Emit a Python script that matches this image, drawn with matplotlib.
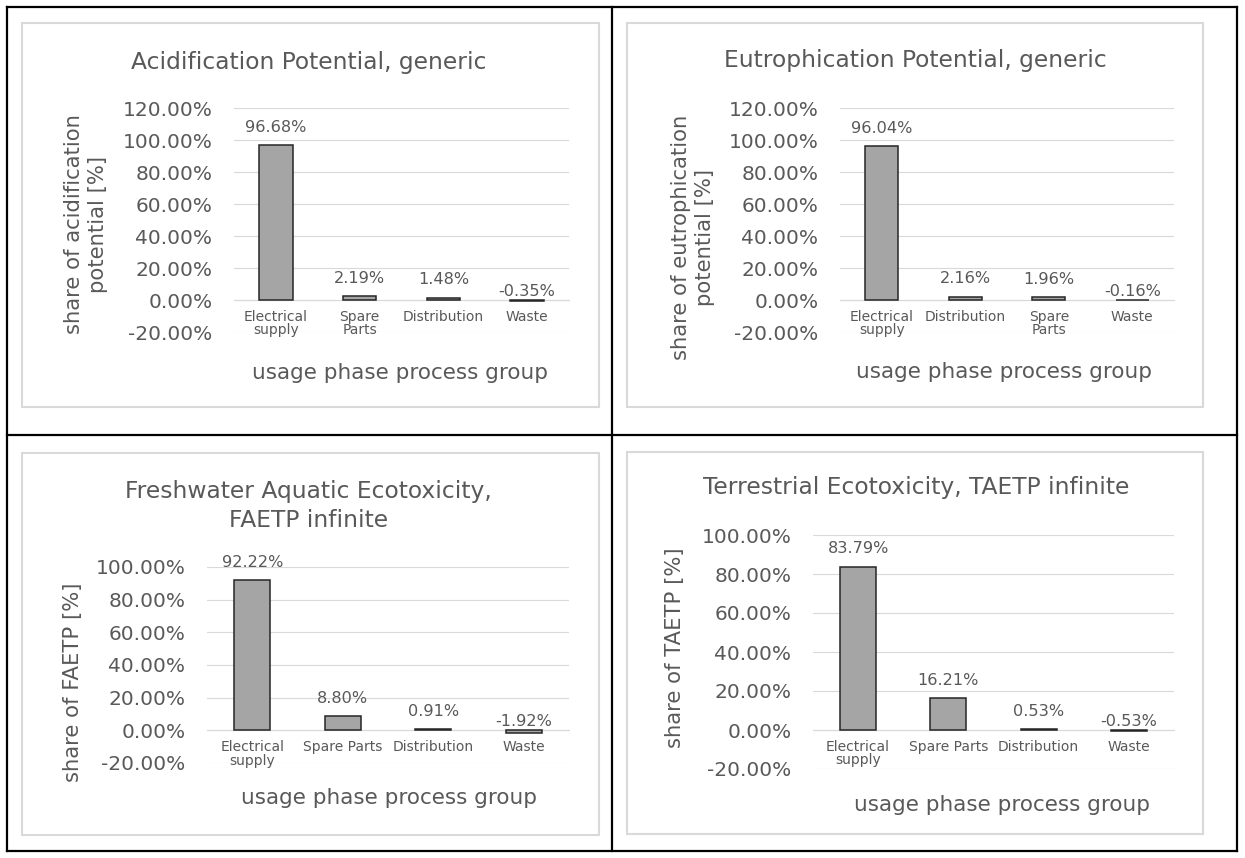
import matplotlib
matplotlib.use("Agg")
import matplotlib.pyplot as plt
from matplotlib.patches import Rectangle
from matplotlib.lines import Line2D
from matplotlib.ticker import FuncFormatter, MultipleLocator

# ---- data -------------------------------------------------------------
acid_categories = ["Electrical\nsupply", "Spare\nParts", "Distribution", "Waste"]
acid_values = [96.68, 2.19, 1.48, -0.35]

eutro_categories = ["Electrical\nsupply", "Distribution", "Spare\nParts", "Waste"]
eutro_values = [96.04, 2.16, 1.96, -0.16]

faetp_categories = ["Electrical\nsupply", "Spare Parts", "Distribution", "Waste"]
faetp_values = [92.22, 8.80, 0.91, -1.92]

taetp_categories = ["Electrical\nsupply", "Spare Parts", "Distribution", "Waste"]
taetp_values = [83.79, 16.21, 0.53, -0.53]

titles = [
    "Acidification Potential, generic",
    "Eutrophication Potential, generic",
    "Freshwater Aquatic Ecotoxicity,\nFAETP infinite",
    "Terrestrial Ecotoxicity, TAETP infinite",
]
ylabels = [
    "share of acidification\npotential [%]",
    "share of eutrophication\npotential [%]",
    "share of FAETP [%]",
    "share of TAETP [%]",
]
xlabel = "usage phase process group"
y_limits = [(-20, 120), (-20, 120), (-20, 100), (-20, 100)]

# ---- style ------------------------------------------------------------
TEXT = "#595959"
GRID = "#d9d9d9"
BAR = "#a5a5a5"
EDGE = "#262626"
plt.rcParams["font.family"] = ["DejaVu Sans"]

W, H = 1245, 858
fig = plt.figure(figsize=(W / 100, H / 100), dpi=100)
fig.patch.set_facecolor("white")


def fx(x):
    return x / W


def fy(y):
    return 1 - y / H


def add_axes_px(x0, y0, x1, y1):
    return fig.add_axes([fx(x0), fy(y1), (x1 - x0) / W, (y1 - y0) / H])


def fig_text(x, y, s, **kw):
    fig.text(fx(x), fy(y), s, color=TEXT, ha="center", va="center", **kw)


# table frame around the four panels
frame_kw = dict(color="black", linewidth=1.6, transform=fig.transFigure)
for (x0, y0, x1, y1) in [(7, 7, 1237, 7), (7, 851, 1237, 851), (7, 7, 7, 851),
                         (1237, 7, 1237, 851), (612, 7, 612, 851), (7, 435, 1237, 435)]:
    fig.add_artist(Line2D([fx(x0), fx(x1)], [fy(y0), fy(y1)], **frame_kw))

# chart-area borders
boxes = [(22, 23, 599, 407), (627, 23, 1203, 407), (22, 453, 599, 835), (627, 452, 1203, 834)]
for (x0, y0, x1, y1) in boxes:
    fig.add_artist(Rectangle((fx(x0), fy(y1)), (x1 - x0) / W, (y1 - y0) / H,
                             transform=fig.transFigure, fill=False,
                             edgecolor=GRID, linewidth=1.5))

plot_areas = [(234, 108, 569, 332), (840, 108, 1174, 332),
              (207, 567, 569, 763), (813, 535, 1174, 769)]
title_pos = [(309, 63), (915, 61), (308.5, 506), (916, 488)]
ylabel_pos = [(86, 224), (693, 237), (73, 682), (675, 648)]
xlabel_pos = [(400, 373), (1004, 372), (389, 798), (1002, 805)]

series = [(acid_categories, acid_values), (eutro_categories, eutro_values),
          (faetp_categories, faetp_values), (taetp_categories, taetp_values)]

pct_fmt = FuncFormatter(lambda v, _: f"{v:.2f}%".replace("\u2212", "-"))

for k, (cats, vals) in enumerate(series):
    ax = add_axes_px(*plot_areas[k])
    xs = range(len(cats))
    ax.bar(xs, vals, width=0.4, color=BAR, edgecolor=EDGE, linewidth=1.1, zorder=3)
    ax.set_xlim(-0.5, len(cats) - 0.5)
    ax.set_ylim(*y_limits[k])
    ax.yaxis.set_major_locator(MultipleLocator(20))
    ax.yaxis.set_major_formatter(pct_fmt)
    ax.grid(axis="y", color=GRID, linewidth=0.8, zorder=0)
    ax.set_axisbelow(True)
    for side in ("left", "right", "top"):
        ax.spines[side].set_visible(False)
    ax.spines["bottom"].set_position(("data", 0))
    ax.spines["bottom"].set_color(GRID)
    ax.spines["bottom"].set_linewidth(0.8)
    ax.set_xticks(list(xs))
    ax.set_xticklabels(cats, fontsize=10, color=TEXT, linespacing=0.95)
    ax.tick_params(axis="x", length=0, pad=7)
    ax.tick_params(axis="y", length=0, pad=15.5, labelsize=14.5, labelcolor=TEXT)
    ax.patch.set_alpha(0)

    for i, v in enumerate(vals):
        off = 9.5 if v >= 0 else 3
        ax.annotate(f"{v:.2f}%", xy=(i, max(v, 0)), xytext=(0, off),
                    textcoords="offset points", ha="center", va="baseline",
                    fontsize=11.6, color=TEXT, zorder=4)

    fig_text(*title_pos[k], titles[k], fontsize=16.8, linespacing=1.38)
    fig_text(*ylabel_pos[k], ylabels[k], fontsize=15.2, rotation=90, linespacing=1.25)
    fig_text(*xlabel_pos[k], xlabel, fontsize=15.5)

fig.savefig("out.png", dpi=100, facecolor="white")
